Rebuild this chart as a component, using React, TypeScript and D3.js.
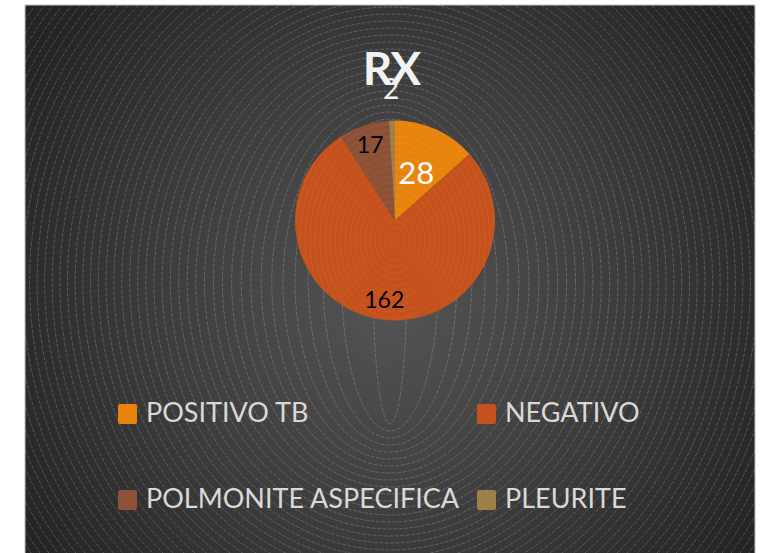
import React from 'react';
import * as d3 from 'd3';

// chart values
const categories = ['POSITIVO TB', 'NEGATIVO', 'POLMONITE ASPECIFICA', 'PLEURITE'];
const values = [28, 162, 17, 2];
const colors = ['#E8840C', '#C5511D', '#8C5136', '#A08049'];
const labelColors = ['#ffffff', '#000000', '#000000', '#000000'];
const titleMain = 'RX';
const titleSub = '2';

const W = 767;
const H = 553;
const BOX = {x: 25, y: 5, w: 730, h: 560};
const CX = 395;
const CY = 220.5;
const R = 100;
const FONT = 'Lato, "Open Sans", sans-serif';

export default function App() {
  const pie = d3.pie<number>().sort(null).value(d => d)(values);
  const arc = d3.arc<d3.PieArcDatum<number>>().innerRadius(0).outerRadius(R);
  const labelArc = (i: number) => d3.arc<d3.PieArcDatum<number>>()
    .innerRadius(i === 0 ? R * 0.52 : R * 0.8)
    .outerRadius(i === 0 ? R * 0.52 : R * 0.8);

  // confocal ring texture of the chart area
  const focal = 141;
  const rings = d3.range(0, 90).map(k => {
    const ry = focal + 1 + k * 7;
    return {ry, rx: Math.sqrt(ry * ry - focal * focal)};
  });
  const pieRings = d3.range(1, 30).map(k => ({rx: k * 5, ry: k * 6.5}));

  const legendX = [118, 477];
  const legendY = [404, 490];

  return (
    <svg width={W} height={H} style={{position: 'absolute', left: 0, top: 0}}>
      <defs>
        <radialGradient id="bg" gradientUnits="userSpaceOnUse" cx={390} cy={300} r={430}>
          <stop offset="0" stopColor="#545454" />
          <stop offset="0.55" stopColor="#3c3c3c" />
          <stop offset="1" stopColor="#242424" />
        </radialGradient>
        <clipPath id="box">
          <rect x={BOX.x} y={BOX.y} width={BOX.w} height={BOX.h} />
        </clipPath>
        <clipPath id="pieclip">
          <circle cx={CX} cy={CY} r={R} />
        </clipPath>
      </defs>
      <rect width={W} height={H} fill="#ffffff" />
      <rect x={BOX.x} y={BOX.y} width={BOX.w} height={BOX.h} fill="url(#bg)" stroke="#bfbfbf" strokeWidth={1} />
      <g clipPath="url(#box)">
        {rings.map((r, i) => (
          <ellipse key={i} cx={390} cy={282} rx={r.rx} ry={r.ry} fill="none"
            stroke="#ffffff" strokeOpacity={0.28} strokeWidth={0.7} strokeDasharray="4 1.5" />
        ))}
      </g>

      <text x={391} y={85} textAnchor="middle" fontFamily={FONT} fontWeight="bold"
        fontSize={46} fill="#f2f2f2" letterSpacing={-2}>{titleMain}</text>
      <text x={391} y={99} textAnchor="middle" fontFamily={FONT} fontSize={28} fill="#f2f2f2">{titleSub}</text>

      <g transform={`translate(${CX},${CY})`}>
        {pie.map((p, i) => (
          <path key={i} d={arc(p) || ''} fill={colors[i]} />
        ))}
      </g>
      <g clipPath="url(#pieclip)">
        {pieRings.map((r, i) => (
          <ellipse key={i} cx={CX} cy={CY + 20} rx={r.rx} ry={r.ry} fill="none"
            stroke="#ffffff" strokeOpacity={0.1} strokeWidth={0.7} />
        ))}
      </g>
      <g transform={`translate(${CX},${CY})`}>
        {pie.map((p, i) => {
          if (i === 3) return null;
          const [x, y] = labelArc(i).centroid(p);
          return (
            <text key={i} x={x} y={y} dy="0.35em" textAnchor="middle" fontFamily={FONT}
              fontSize={i === 0 ? 31 : 23} fill={labelColors[i]}>{values[i]}</text>
          );
        })}
      </g>

      {categories.map((c, i) => {
        const x = legendX[i % 2];
        const y = legendY[Math.floor(i / 2)];
        return (
          <g key={c} transform={`translate(${x},${y})`}>
            <rect x={0} y={0} width={19} height={20} rx={2} fill={colors[i]} />
            <text x={28} y={18} fontFamily={FONT} fontSize={27} fill="#d9d9d9">{c}</text>
          </g>
        );
      })}
    </svg>
  );
}
